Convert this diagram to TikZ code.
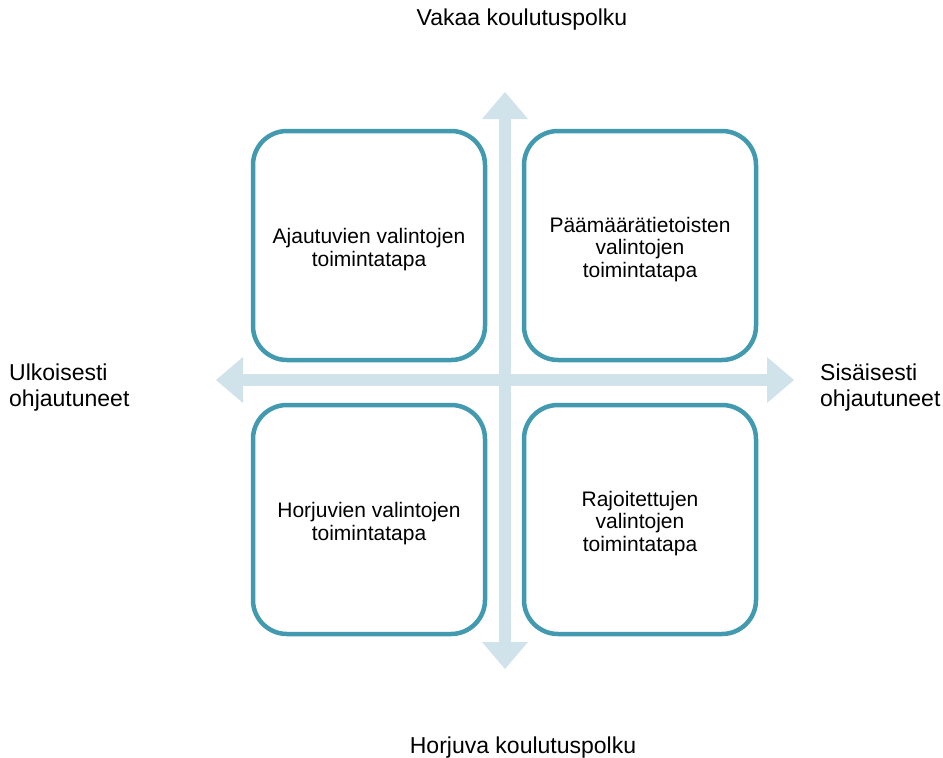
\documentclass[tikz,border=0pt]{standalone}
\usepackage{fontspec}
\setmainfont{Liberation Sans}
\usetikzlibrary{arrows.meta}
\definecolor{boxc}{RGB}{66,154,177}
\definecolor{axisc}{RGB}{208,226,234}
\tikzset{
  quad/.style={draw=boxc, line width=4.5pt, rounded corners=34pt,
    minimum width=232pt, minimum height=229pt, inner sep=0pt},
  quadtext/.style={align=center, font=\fontsize{21}{22.5}\selectfont, inner sep=0pt},
  axisline/.style={draw=axisc, line width=12pt,
    {Triangle[width=46pt,length=27pt,line width=0pt]}-{Triangle[width=46pt,length=27pt,line width=0pt]},
    fill=axisc},
  lab/.style={font=\fontsize{23}{26}\selectfont, inner sep=0pt}
}
\begin{document}
\begin{tikzpicture}[x=1pt,y=-1pt]
\useasboundingbox (0,0) rectangle (943,758);
\coordinate (vtop) at (505,92);
\coordinate (vbot) at (505,669);
\coordinate (hleft) at (216,380);
\coordinate (hright) at (794,380);
\draw[axisline] (hleft) -- (hright);
\draw[axisline] (vtop) -- (vbot);

\node[quad] (tl) at (369,245.5) {};
\node[quad] (tr) at (640,245.5) {};
\node[quad] (bl) at (369,519.5) {};
\node[quad] (br) at (640,519.5) {};
\node[quadtext] (tlt) at ([yshift=-4pt]tl.center) {Ajautuvien valintojen\\toimintatapa};
\node[quadtext] (trt) at ([yshift=-4pt]tr.center) {Päämäärätietoisten\\valintojen\\toimintatapa};
\node[quadtext] (blt) at ([yshift=-4pt]bl.center) {Horjuvien valintojen\\toimintatapa};
\node[quadtext] (brt) at ([yshift=-4pt]br.center) {Rajoitettujen\\valintojen\\toimintatapa};

\node[lab, anchor=base] (top) at (522,25) {Vakaa koulutuspolku};
\node[lab, anchor=base] (bottom) at (523,753) {Horjuva koulutuspolku};
\node[lab, anchor=base west, align=left] (left) at (9,406) {Ulkoisesti\\ohjautuneet};
\node[lab, anchor=base west, align=left] (right) at (820,406) {Sisäisesti\\ohjautuneet};
\end{tikzpicture}
\end{document}
